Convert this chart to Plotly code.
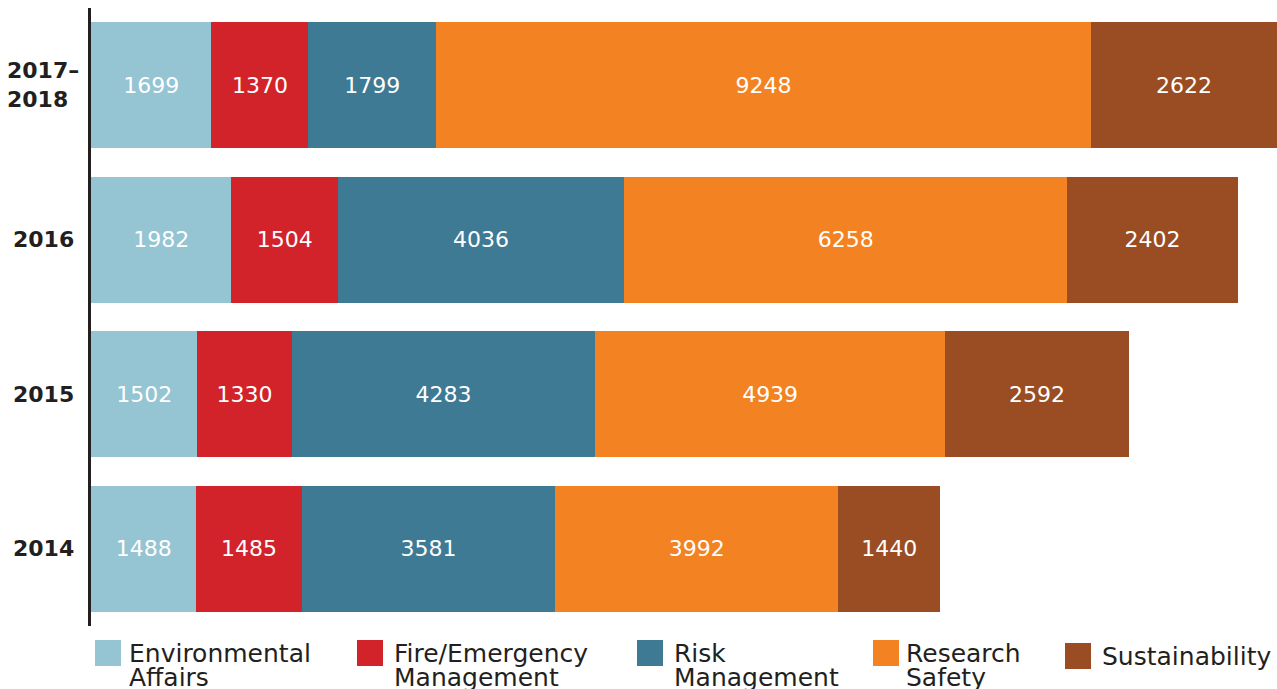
import plotly.graph_objects as go

# data (top row first)
years = ["2017–2018", "2016", "2015", "2014"]
year_labels = ["2017–<br>2018", "2016", "2015", "2014"]
series_names = ["Environmental<br>Affairs", "Fire/Emergency<br>Management", "Risk<br>Management",
                "Research<br>Safety", "Sustainability"]
env_affairs = [1699, 1982, 1502, 1488]
fire_emergency = [1370, 1504, 1330, 1485]
risk_mgmt = [1799, 4036, 4283, 3581]
research_safety = [9248, 6258, 4939, 3992]
sustainability = [2622, 2402, 2592, 1440]

colors = ["#95C4D2", "#D2232B", "#3E7A94", "#F38322", "#9A4D23"]
DARK = "#231F20"
FONT = "DejaVu Sans"

W, H = 1277, 689
# plot area in window pixels: x 91..1277, y 8..626 (body margin zeroed below)
M_L, M_T, M_R = 91, 8, 0
M_B = H - 626

series = [env_affairs, fire_emergency, risk_mgmt, research_safety, sustainability]
totals = [sum(v) for v in zip(*series)]

fig = go.Figure()
for name, vals, col in zip(series_names, series, colors):
    fig.add_trace(go.Bar(
        y=years, x=vals, orientation="h", name=name.replace("<br>", " "),
        marker=dict(color=col, line=dict(width=0)),
        text=vals, texttemplate="%{x}", textposition="inside",
        insidetextanchor="middle", textangle=0,
        textfont=dict(family=FONT, size=22, color="white"),
        showlegend=False,
    ))


def px_x(p):
    return (p - M_L) / (W - M_L - M_R)


def px_y(p):
    return (H - M_B - p) / (H - M_T - M_B)


# year labels
for i, lab in enumerate(year_labels):
    fig.add_annotation(x=px_x(43), xref="paper", y=i, yref="y", text=f"<b>{lab}</b>",
                       showarrow=False, xanchor="center", yanchor="middle", align="left",
                       font=dict(family=FONT, size=22, color=DARK))

# legend drawn by hand: big swatches and tight two-line labels
swatch_x = [95, 357, 637, 873, 1065]
text_x = [131, 396, 676, 908, 1104]
for i, (name, col) in enumerate(zip(series_names, colors)):
    lines = name.split("<br>")
    single = len(lines) == 1
    top = 643 if single else 640
    fig.add_shape(type="rect", xref="paper", yref="paper",
                  x0=px_x(swatch_x[i]), x1=px_x(swatch_x[i] + 26),
                  y0=px_y(top), y1=px_y(top + 26),
                  fillcolor=col, line=dict(width=0))
    first = 642 if single else 639
    for k, line in enumerate(lines):
        fig.add_annotation(x=px_x(text_x[i] - 2), xref="paper",
                           y=px_y(first + 24 * k), yref="paper",
                           text=line, showarrow=False, xanchor="left", yanchor="top",
                           borderpad=0, borderwidth=0,
                           font=dict(family=FONT, size=25, color=DARK))

fig.update_layout(
    width=W, height=H,
    margin=dict(l=M_L, r=M_R, t=M_T, b=M_B, autoexpand=False),
    barmode="stack", bargap=0.185,
    paper_bgcolor="white", plot_bgcolor="white",
    xaxis=dict(range=[0, max(totals)], visible=False, fixedrange=True, automargin=False),
    yaxis=dict(type="category", categoryarray=years, range=[len(years) - 0.5, -0.5],
               showticklabels=False, ticks="", fixedrange=True,
               showline=True, linecolor=DARK, linewidth=3, showgrid=False,
               zeroline=False, automargin=False),
    font=dict(family=FONT, color=DARK),
)

fig.write_html("out.html", config={"displayModeBar": False},
               post_script="document.body.style.margin='0';document.body.style.overflow='hidden';")
